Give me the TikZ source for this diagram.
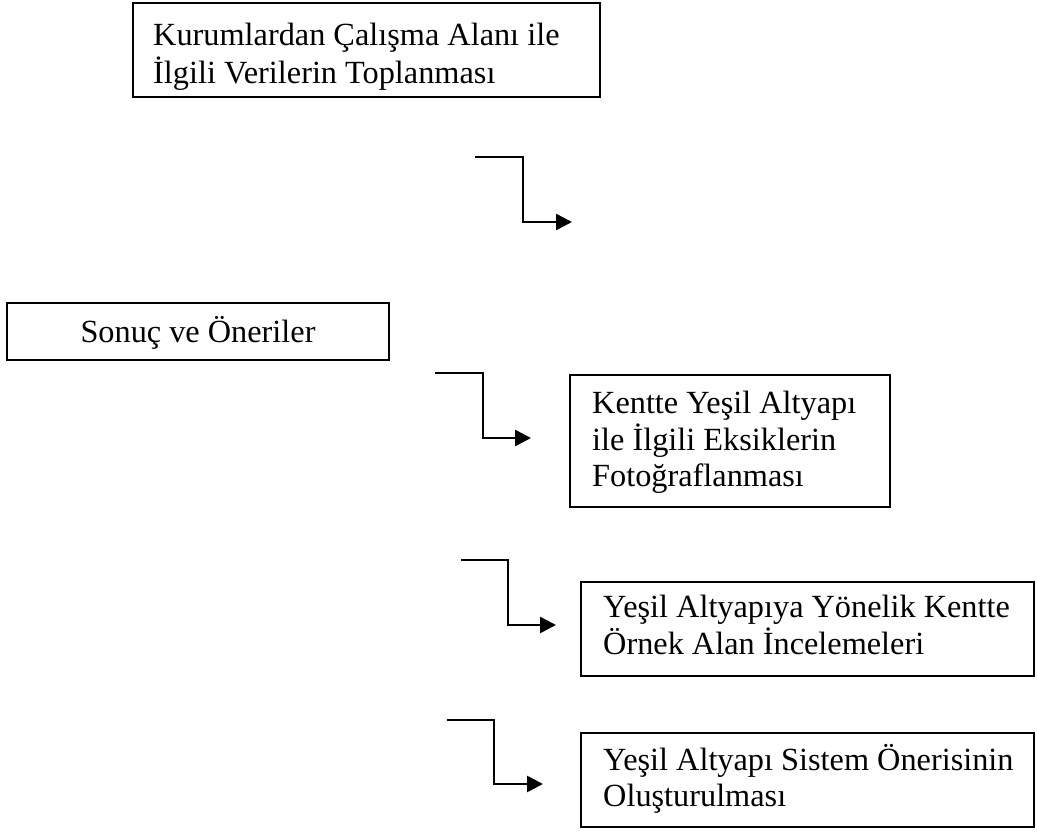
\documentclass[tikz,border=0pt]{standalone}
\usepackage{fontspec}
\setmainfont{Liberation Serif}
\usetikzlibrary{arrows.meta}
\newcommand{\flowlines}[1]{\begin{tabular}[t]{@{}l@{}}#1\end{tabular}}
\tikzset{
  flowbox/.style={draw=black, line width=1.6pt, inner sep=0pt},
  flowtext/.style={inner sep=0pt, font=\fontsize{32.3}{36}\selectfont},
  flowarrow/.style={draw=black, line width=2.6pt,
    -{Triangle[length=16pt,width=16pt]}}
}
\begin{document}
\begin{tikzpicture}[x=1pt,y=-1pt]
\useasboundingbox (0,0) rectangle (1037,832);
% boxes
\node[flowbox, minimum width=467pt, minimum height=94pt] (b1) at (366.5,50) {};
\node[flowbox, minimum width=382pt, minimum height=57pt] (b2) at (198,331.5) {};
\node[flowbox, minimum width=320pt, minimum height=132pt] (b3) at (730,441) {};
\node[flowbox, minimum width=453pt, minimum height=94pt] (b4) at (807.5,629) {};
\node[flowbox, minimum width=453pt, minimum height=94pt] (b5) at (807.5,780) {};
% texts
\node[flowtext, anchor=base west] (t1) at (153,46)
  {\flowlines{Kurumlardan Çalışma Alanı ile\\İlgili Verilerin Toplanması}};
\node[flowtext, anchor=base] (t2) at (198,342) {Sonuç ve Öneriler};
\node[flowtext, anchor=base west] (t3) at (592,413)
  {\flowlines{Kentte Yeşil Altyapı\\ile İlgili Eksiklerin\\Fotoğraflanması}};
\node[flowtext, anchor=base west] (t4) at (603,617)
  {\flowlines{Yeşil Altyapıya Yönelik Kentte\\Örnek Alan İncelemeleri}};
\node[flowtext, anchor=base west] (t5) at (603,770)
  {\flowlines{Yeşil Altyapı Sistem Önerisinin\\Oluşturulması}};
% arrow points
\coordinate (a1s) at (475,157);
\coordinate (a1b) at (523,222);
\coordinate (a1e) at (572,222);
\coordinate (a2s) at (435,373);
\coordinate (a2b) at (483,438);
\coordinate (a2e) at (531,438);
\coordinate (a3s) at (461,560);
\coordinate (a3b) at (508,625);
\coordinate (a3e) at (556,625);
\coordinate (a4s) at (447,720);
\coordinate (a4b) at (494,784);
\coordinate (a4e) at (543,784);
% arrows
\draw[flowarrow] (a1s) -| (a1b) -- (a1e);
\draw[flowarrow] (a2s) -| (a2b) -- (a2e);
\draw[flowarrow] (a3s) -| (a3b) -- (a3e);
\draw[flowarrow] (a4s) -| (a4b) -- (a4e);
\end{tikzpicture}
\end{document}
